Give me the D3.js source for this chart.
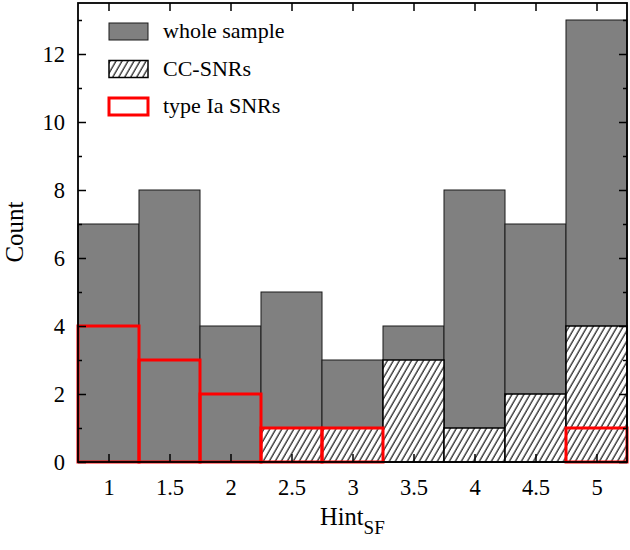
<!DOCTYPE html>
<html><head><meta charset="utf-8">
<script src="https://cdn.jsdelivr.net/npm/d3@7"></script>
<style>body{margin:0;background:#fff}svg{display:block}text{font-family:"Liberation Serif","DejaVu Serif",serif}</style>
</head><body>
<script>
const bins = [1, 1.5, 2, 2.5, 3, 3.5, 4, 4.5, 5];
const wholeSample = [7, 8, 4, 5, 3, 4, 8, 7, 13];
const ccSNRs = [0, 0, 0, 1, 1, 3, 1, 2, 4];
const typeIa = [4, 3, 2, 1, 1, 0, 0, 0, 1];
const xTicks = [1, 1.5, 2, 2.5, 3, 3.5, 4, 4.5, 5];
const yTicks = [0, 2, 4, 6, 8, 10, 12];
const yMinor = [1, 3, 5, 7, 9, 11, 13];
const legendLabels = ["whole sample", "CC-SNRs", "type Ia SNRs"];
const binWidth = 0.5;

(function () {
const W = 630, H = 550;
const L = 78, R = 627, T = 3, B = 462;
const svg = d3.select("body").append("svg").attr("width", W).attr("height", H);
const defs = svg.append("defs");
const pat = defs.append("pattern").attr("id", "hatch").attr("patternUnits", "userSpaceOnUse")
  .attr("width", 5.2).attr("height", 10).attr("patternTransform", "rotate(30)");
pat.append("rect").attr("width", 5.2).attr("height", 10).attr("fill", "#fff");
pat.append("line").attr("x1", 1).attr("x2", 1).attr("y1", 0).attr("y2", 10).attr("stroke", "#000").attr("stroke-width", 1.1);

const x = d3.scaleLinear().domain([0.75, 5.25]).range([L, R]);
const y = d3.scaleLinear().domain([0, 13.5]).range([B, T]);

const g = svg.append("g");
function bars(vals, cls) {
  return g.selectAll("rect." + cls).data(bins.map((b, i) => ({b, v: vals[i]})).filter(d => d.v > 0))
    .enter().append("rect").attr("class", cls)
    .attr("x", d => x(d.b - binWidth / 2)).attr("width", d => x(d.b + binWidth / 2) - x(d.b - binWidth / 2))
    .attr("y", d => y(d.v)).attr("height", d => y(0) - y(d.v));
}
bars(wholeSample, "whole").attr("fill", "#808080").attr("stroke", "#1a1a1a").attr("stroke-width", 1);
bars(ccSNRs, "cc").attr("fill", "url(#hatch)").attr("stroke", "#000").attr("stroke-width", 1.5);
bars(typeIa, "ia").attr("fill", "none").attr("stroke", "#ff0000").attr("stroke-width", 3);

const ax = svg.append("g");
ax.append("g").attr("transform", `translate(0,${B})`)
  .call(d3.axisBottom(x).tickValues(xTicks).tickSize(-8).tickPadding(17).tickFormat(d3.format("")));
ax.append("g").attr("transform", `translate(0,${T})`)
  .call(d3.axisTop(x).tickValues(xTicks).tickSize(-8).tickFormat(""));
ax.append("g").attr("transform", `translate(${L},0)`)
  .call(d3.axisLeft(y).tickValues(yTicks).tickSize(-8).tickPadding(13));
ax.append("g").attr("transform", `translate(${L},0)`)
  .call(d3.axisLeft(y).tickValues(yMinor).tickSize(-4).tickFormat(""));
ax.append("g").attr("transform", `translate(${R},0)`)
  .call(d3.axisRight(y).tickValues(yTicks).tickSize(-8).tickFormat(""));
ax.append("g").attr("transform", `translate(${R},0)`)
  .call(d3.axisRight(y).tickValues(yMinor).tickSize(-4).tickFormat(""));
ax.selectAll(".domain").remove();
ax.selectAll(".tick line").attr("stroke", "#000").attr("stroke-width", 1.5);
ax.selectAll(".tick text").attr("font-size", 22.5).attr("fill", "#000")
  .style("font-family", '"Liberation Serif",serif');
svg.append("rect").attr("x", L).attr("y", T).attr("width", R - L).attr("height", B - T)
  .attr("fill", "none").attr("stroke", "#000").attr("stroke-width", 1.8);

const lg = svg.append("g");
const lx = 109, ly0 = 23, ldy = 37.5, sw = 39, sh = 17;
legendLabels.forEach((t, i) => {
  const yy = ly0 + i * ldy;
  const r = lg.append("rect").attr("x", lx).attr("y", yy).attr("width", sw).attr("height", sh);
  if (i === 0) r.attr("fill", "#808080").attr("stroke", "#1a1a1a").attr("stroke-width", 1);
  if (i === 1) r.attr("fill", "url(#hatch)").attr("stroke", "#000").attr("stroke-width", 1.5);
  if (i === 2) r.attr("fill", "none").attr("stroke", "#ff0000").attr("stroke-width", 3);
  lg.append("text").attr("x", 163).attr("y", yy + 15).attr("font-size", 22).text(t);
});

const xl = svg.append("text").attr("x", 320).attr("y", 525).attr("font-size", 24.5);
xl.append("tspan").text("Hint");
xl.append("tspan").attr("font-size", 19).attr("dy", 9).text("SF");
svg.append("text").attr("transform", "translate(23,232) rotate(-90)").attr("text-anchor", "middle")
  .attr("font-size", 25).text("Count");
})();
</script>
</body></html>
